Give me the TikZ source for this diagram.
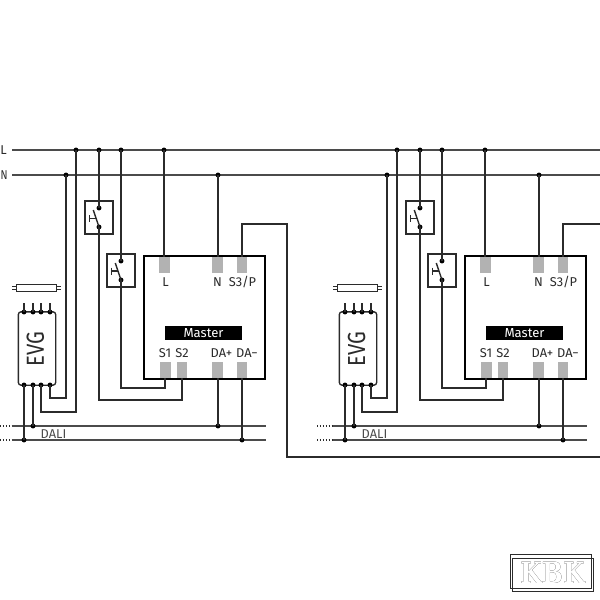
\documentclass[tikz,border=0pt]{standalone}
\usepackage{fontspec}
\setmainfont{Fira Sans}
\newfontfamily\logofont{DejaVu Serif}
\usepackage[outline]{contour}
\contourlength{0.6pt}
\definecolor{ink}{HTML}{2B2B2B}
\definecolor{termgrey}{HTML}{B2B2B2}
\tikzset{
  wire/.style={draw=ink,line width=1.25pt},
  thin wire/.style={draw=ink,line width=1.05pt},
  bus/.style={draw=ink!85,line width=1.5pt},
  jdot/.style={circle,fill=black,inner sep=0pt,minimum size=3.7pt},
  swbox/.style={draw=ink,line width=1.2pt,minimum width=21pt,minimum height=24.5pt,inner sep=0pt},
  master/.style={draw=black,line width=1.5pt,minimum width=91pt,minimum height=92pt,inner sep=0pt},
  term/.style={fill=termgrey,draw=none,minimum width=8pt,minimum height=12pt,inner sep=0pt},
  lbl/.style={font=\fontsize{9.6}{10}\selectfont,text=ink,inner sep=0pt},
  evgbox/.style={draw=ink,line width=1pt,rounded corners=2pt,minimum width=28pt,minimum height=55pt,inner sep=0pt},
  tube/.style={draw=ink,line width=0.9pt,minimum width=30pt,minimum height=5.2pt,inner sep=0pt},
  dotted end/.style={draw=ink,line width=1pt,dash pattern=on 1.1pt off 1.1pt},
}
\newcommand{\drawunit}[3]{%
\begin{scope}[xshift=#2*0.75pt]
  % taps on the bus
  \node[jdot] (#1tn) at (66,175) {};
  \node[jdot] (#1te) at (76,150) {};
  \node[jdot] (#1ta) at (99,150) {};
  \node[jdot] (#1tb) at (121,150) {};
  \node[jdot] (#1tl) at (164,150) {};
  \node[jdot] (#1tm) at (218,175) {};
  % switches
  \node[swbox] (#1swa) at (99,217.5) {};
  \node[swbox] (#1swb) at (121,270.5) {};
  \node[jdot] (#1aa) at (99,208) {};
  \node[jdot] (#1ab) at (99,227) {};
  \node[jdot] (#1ba) at (121,261) {};
  \node[jdot] (#1bb) at (121,280) {};
  \coordinate (#1ha) at (93.3,210);
  \coordinate (#1hb) at (115.3,263);
  \draw[thin wire] (#1ab.center) -- (#1ha);
  \draw[thin wire] (#1bb.center) -- (#1hb);
  \draw[thin wire] (89.5,218.5) -- (95.6,218.5) (89.5,215) -- (89.5,222);
  \draw[thin wire] (111.5,271) -- (117.6,271) (111.5,267.5) -- (111.5,274.5);
  % master
  \node[master] (#1m) at (204.5,317.5) {};
  \node[term] (#1pl) at (164.5,265) {};
  \node[term] (#1pn) at (217.5,265) {};
  \node[term] (#1ps) at (242,265) {};
  \node[term] (#1ps1) at (165.5,370) {};
  \node[term] (#1ps2) at (182,370) {};
  \node[term] (#1pdp) at (217.5,370) {};
  \node[term] (#1pdm) at (242,370) {};
  \node[lbl] (#1ll) at (165.5,282) {L};
  \node[lbl] (#1ln) at (217.5,282) {N};
  \node[lbl] (#1ls) at (242.5,282) {S3/P};
  \node[lbl] (#1l1) at (165,353.5) {S1};
  \node[lbl] (#1l2) at (182,353.5) {S2};
  \node[lbl] (#1ldp) at (221.5,353.5) {DA+};
  \node[lbl] (#1ldm) at (247,353.5) {DA−};
  \node[fill=black,minimum width=57.5pt,minimum height=10.2pt,inner sep=0pt,text=white,font=\fontsize{9.8}{10}\selectfont] (#1bar) at (203.5,333) {Master};
  % EVG and lamp
  \node[tube] (#1tube) at (36.5,288) {};
  \draw[thin wire,line width=0.8pt] (#1tube.west) ++(0,1.4pt) -- ++(-3pt,0) (#1tube.west) ++(0,-1.4pt) -- ++(-3pt,0);
  \draw[thin wire,line width=0.8pt] (#1tube.east) ++(0,1.4pt) -- ++(3pt,0) (#1tube.east) ++(0,-1.4pt) -- ++(3pt,0);
  \node[evgbox] (#1evg) at (37,348.5) {};
  \node[rotate=90,text=ink,inner sep=0pt] (#1evgt) at (35.5,349) {\scalebox{0.82}[1]{\fontsize{18.5}{20}\selectfont EVG}};
  \node[jdot] (#1e1) at (24,312) {};
  \node[jdot] (#1e2) at (33,312) {};
  \node[jdot] (#1e3) at (41,312) {};
  \node[jdot] (#1e4) at (50,312) {};
  \coordinate (#1c1) at (24,303);
  \coordinate (#1c2) at (33,303);
  \coordinate (#1c3) at (41,303);
  \coordinate (#1c4) at (50,303);
  \draw[thin wire] (#1c1) -- (#1e1.center);
  \draw[thin wire] (#1c2) -- (#1e2.center);
  \draw[thin wire] (#1c3) -- (#1e3.center);
  \draw[thin wire] (#1c4) -- (#1e4.center);
  \node[jdot] (#1f1) at (24,385) {};
  \node[jdot] (#1f2) at (33,385) {};
  \node[jdot] (#1f3) at (41,385) {};
  \node[jdot] (#1f4) at (50,385) {};
  % DALI
  \coordinate (#1da) at (#3,426);
  \coordinate (#1db) at (#3,440);
  \coordinate (#1dc) at (12,426);
  \coordinate (#1dd) at (12,440);
  \coordinate (#1de) at (266,426);
  \coordinate (#1df) at (266,440);
  \draw[dotted end] (#1da) -- (#1dc);
  \draw[dotted end] (#1db) -- (#1dd);
  \draw[bus] (#1dc) -- (#1de);
  \draw[bus] (#1dd) -- (#1df);
  \node[jdot] (#1j2) at (33,426) {};
  \node[jdot] (#1j1) at (24,440) {};
  \node[jdot] (#1jp) at (218,426) {};
  \node[jdot] (#1jm) at (242,440) {};
  \node[lbl,text=ink!85] (#1dali) at (53.5,434) {DALI};
  % connectors
  \draw[wire] (#1f1.center) -- (#1j1.center);
  \draw[wire] (#1f2.center) -- (#1j2.center);
  \coordinate (#1k3) at (41,412);
  \coordinate (#1k4) at (50,398);
  \draw[wire] (#1f3.center) -- (#1k3) -| (#1te.center);
  \draw[wire] (#1f4.center) -- (#1k4) -| (#1tn.center);
  \draw[wire] (#1ta.center) -- (#1aa.center);
  \draw[wire] (#1tb.center) -- (#1ba.center);
  \draw[wire] (#1tl.center) -- (#1tl |- #1pl.north);
  \draw[wire] (#1tm.center) -- (#1tm |- #1pn.north);
  \coordinate (#1k1) at (165,388);
  \coordinate (#1k2) at (182,400);
  \draw[wire] (#1k1 |- #1ps1.south) -- (#1k1) -| (#1bb.center);
  \draw[wire] (#1ps2.south) -- (#1k2) -| (#1ab.center);
  \draw[wire] (#1jp |- #1pdp.south) -- (#1jp.center);
  \draw[wire] (#1pdm.south) -- (#1jm.center);
\end{scope}}
\begin{document}
\begin{tikzpicture}[x=0.75pt,y=-0.75pt]
\useasboundingbox (0,0) rectangle (600,600);
\fill[white] (0,0) rectangle (600,600);
\coordinate (La) at (12,150);
\coordinate (Lb) at (600,150);
\coordinate (Na) at (12,175);
\coordinate (Nb) at (600,175);
\node[lbl] (Ltxt) at (3.5,150) {L};
\node[lbl] (Ntxt) at (4,175) {\scalebox{0.8}[1]{N}};
\draw[bus] (La) -- (Lb);
\draw[bus] (Na) -- (Nb);
\drawunit{a}{0}{0}
\drawunit{b}{321}{-4}
% S3/P loop of the left unit
\coordinate (p1) at (242,224);
\coordinate (p2) at (287,224);
\coordinate (p3) at (287,457);
\coordinate (p4) at (600,457);
\draw[wire] (aps.north) -- (p1) -- (p2) -- (p3) -- (p4);
\coordinate (q1) at (563,224);
\coordinate (q2) at (600,224);
\draw[wire] (bps.north) -- (q1) -- (q2);
% logo
\node[draw=ink,line width=0.7pt,minimum width=61pt,minimum height=25pt,inner sep=0pt] (logoa) at (551,571.5) {};
\node[draw=ink,line width=0.7pt,minimum width=61pt,minimum height=25pt,inner sep=0pt] (logob) at (553,575) {};
\node[inner sep=0pt,text=white] (logot) at (552.5,573) {\scalebox{0.85}[1.0]{\logofont\bfseries\fontsize{22}{22}\selectfont\contour{black}{KBK}}};
\end{tikzpicture}
\end{document}
